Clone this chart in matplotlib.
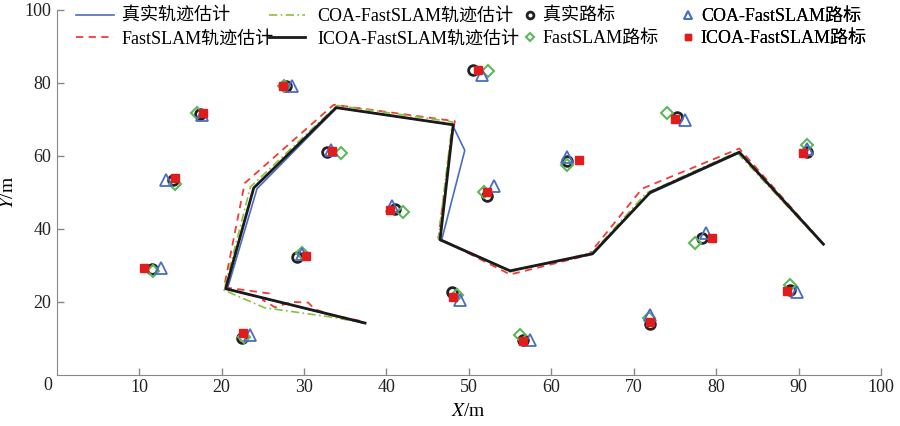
import matplotlib
matplotlib.use('Agg')
import matplotlib.pyplot as plt

plt.rcParams['font.family'] = ['Liberation Serif', 'Noto Sans CJK SC']
plt.rcParams['mathtext.fontset'] = 'stix'

# trajectories (x, y)
true_x = [37.2, 20.7, 24.3, 34.0, 48.0, 49.5, 46.7, 55.0, 65.0, 71.8, 82.8, 93.0]
true_y = [14.2, 23.5, 51.0, 73.2, 68.5, 61.5, 37.0, 28.5, 33.0, 49.5, 60.8, 35.8]
fast_x = [36.8, 33.2, 31.3, 30.5, 28.5, 26.5, 25.0, 25.8, 20.3, 22.8, 33.6, 48.3, 47.8, 46.3, 55.0, 64.5, 71.0, 82.8, 93.0]
fast_y = [14.8, 16.5, 18.0, 19.8, 20.0, 18.5, 20.5, 22.3, 24.0, 52.5, 74.0, 69.5, 64.0, 37.5, 27.5, 32.8, 51.0, 62.0, 35.8]
coa_x = [37.4, 33.1, 25.2, 20.3, 23.5, 34.0, 48.0, 46.3, 55.0, 65.0, 71.5, 82.5, 93.0]
coa_y = [14.2, 15.9, 18.4, 23.2, 51.5, 73.8, 69.3, 37.3, 28.2, 33.5, 49.8, 61.0, 35.6]
icoa_x = [37.4, 20.5, 23.9, 33.9, 48.1, 46.5, 55.0, 65.0, 72.0, 82.8, 93.0]
icoa_y = [14.2, 23.6, 51.2, 73.2, 68.5, 37.0, 28.5, 33.2, 50.0, 61.0, 35.8]

# landmarks
lm_true_x = [11.5, 14.1, 17.4, 27.8, 32.8, 41.0, 29.1, 22.5, 50.5, 52.2, 61.9, 48.0, 56.6, 72.0, 75.2, 91.0, 78.3, 89.0]
lm_true_y = [29.0, 53.4, 71.5, 79.0, 61.1, 45.4, 32.3, 10.1, 83.6, 49.0, 58.6, 22.7, 9.6, 14.0, 70.7, 61.1, 37.5, 23.3]
lm_fast_x = [11.7, 14.4, 17.0, 27.6, 34.5, 42.0, 29.7, 22.7, 52.3, 51.8, 61.9, 48.5, 56.2, 71.9, 74.0, 91.0, 77.4, 89.0]
lm_fast_y = [28.5, 52.3, 71.8, 79.2, 60.8, 44.7, 33.5, 10.5, 83.3, 50.1, 57.5, 21.9, 11.0, 15.5, 71.8, 63.0, 36.2, 24.7]
lm_coa_x = [12.7, 13.3, 17.6, 28.6, 33.3, 40.7, 29.8, 23.4, 51.6, 53.0, 61.9, 48.9, 57.4, 72.0, 76.2, 91.0, 78.8, 89.8]
lm_coa_y = [29.3, 53.4, 71.3, 79.0, 61.5, 46.3, 33.2, 10.9, 82.2, 51.8, 59.7, 20.6, 9.6, 16.4, 69.9, 61.8, 38.9, 22.7]
lm_icoa_x = [10.6, 14.4, 17.8, 27.4, 33.4, 40.4, 30.3, 22.6, 51.1, 52.2, 63.4, 48.1, 56.6, 72.0, 75.0, 90.5, 79.5, 88.6]
lm_icoa_y = [29.3, 54.0, 71.8, 79.2, 61.4, 45.2, 32.6, 11.6, 83.6, 50.1, 58.9, 21.4, 9.3, 14.5, 70.1, 60.8, 37.5, 23.0]

c_blue = '#4a6cc4'
c_red = '#f03a3a'
c_green = '#8cbf3f'
c_dgreen = '#5cb85c'

fig = plt.figure(figsize=(9, 4.26), dpi=100)
ax = fig.add_axes([0.063, 0.12, 0.916, 0.857])

l_true, = ax.plot(true_x, true_y, color=c_blue, lw=1.2, label='真实轨迹估计')
l_fast, = ax.plot(fast_x, fast_y, color=c_red, lw=1.3, ls=(0, (4, 3)), label='FastSLAM轨迹估计')
l_coa, = ax.plot(coa_x, coa_y, color=c_green, lw=1.2, ls=(0, (5, 2, 1, 2)), label='COA-FastSLAM轨迹估计')
l_icoa, = ax.plot(icoa_x, icoa_y, color='#1a1a1a', lw=2.0, label='ICOA-FastSLAM轨迹估计')

m_true, = ax.plot(lm_true_x, lm_true_y, 'o', mfc='none', mec='#222222', mew=2.0, ms=7, label='真实路标')
m_fast, = ax.plot(lm_fast_x, lm_fast_y, 'D', mfc='none', mec=c_dgreen, mew=1.5, ms=6, label='FastSLAM路标')
m_coa, = ax.plot(lm_coa_x, lm_coa_y, '^', mfc='none', mec=c_blue, mew=1.3, ms=8, label='COA-FastSLAM路标')
m_icoa, = ax.plot(lm_icoa_x, lm_icoa_y, 's', color='#e01c1c', ms=6, label='ICOA-FastSLAM路标')

ax.set_xlim(0, 100)
ax.set_ylim(0, 100)
ax.set_xticks(range(10, 101, 10))
ax.set_yticks(range(20, 101, 20))
ax.tick_params(direction='in', length=5, width=1, colors='#888888', labelcolor='#222222', labelsize=13)
ax.tick_params(axis='x', pad=3)
ax.tick_params(axis='y', pad=4)
for s in ['top', 'right']:
    ax.spines[s].set_visible(False)
for s in ['left', 'bottom']:
    ax.spines[s].set_color('#888888')
ax.text(-1.1, -2.8, '0', ha='center', va='center', fontsize=13, color='#222222')
ax.set_xlabel('$X$/m', fontsize=14, labelpad=5)
ax.set_ylabel('$Y$/m', fontsize=14, labelpad=5)

# legend split into four columns
groups = [
    ([l_true, l_fast], 0.024, 2.1, 0.4),
    ([l_coa, l_icoa], 0.258, 1.95, 0.7),
    ([m_true, m_fast], 0.563, 1.0, 0.22),
    ([m_coa, m_icoa], 0.755, 1.0, 0.2),
]
for handles, x0, hl, pad in groups:
    leg = ax.legend(handles=handles, loc='upper left', bbox_to_anchor=(x0, 1.005),
                    frameon=False, borderpad=0, borderaxespad=0, handlelength=hl,
                    handletextpad=pad, labelspacing=0.3, markerscale=0.7,
                    prop={'size': 13})
    ax.add_artist(leg)

fig.savefig('out.png', dpi=100, facecolor='white')
